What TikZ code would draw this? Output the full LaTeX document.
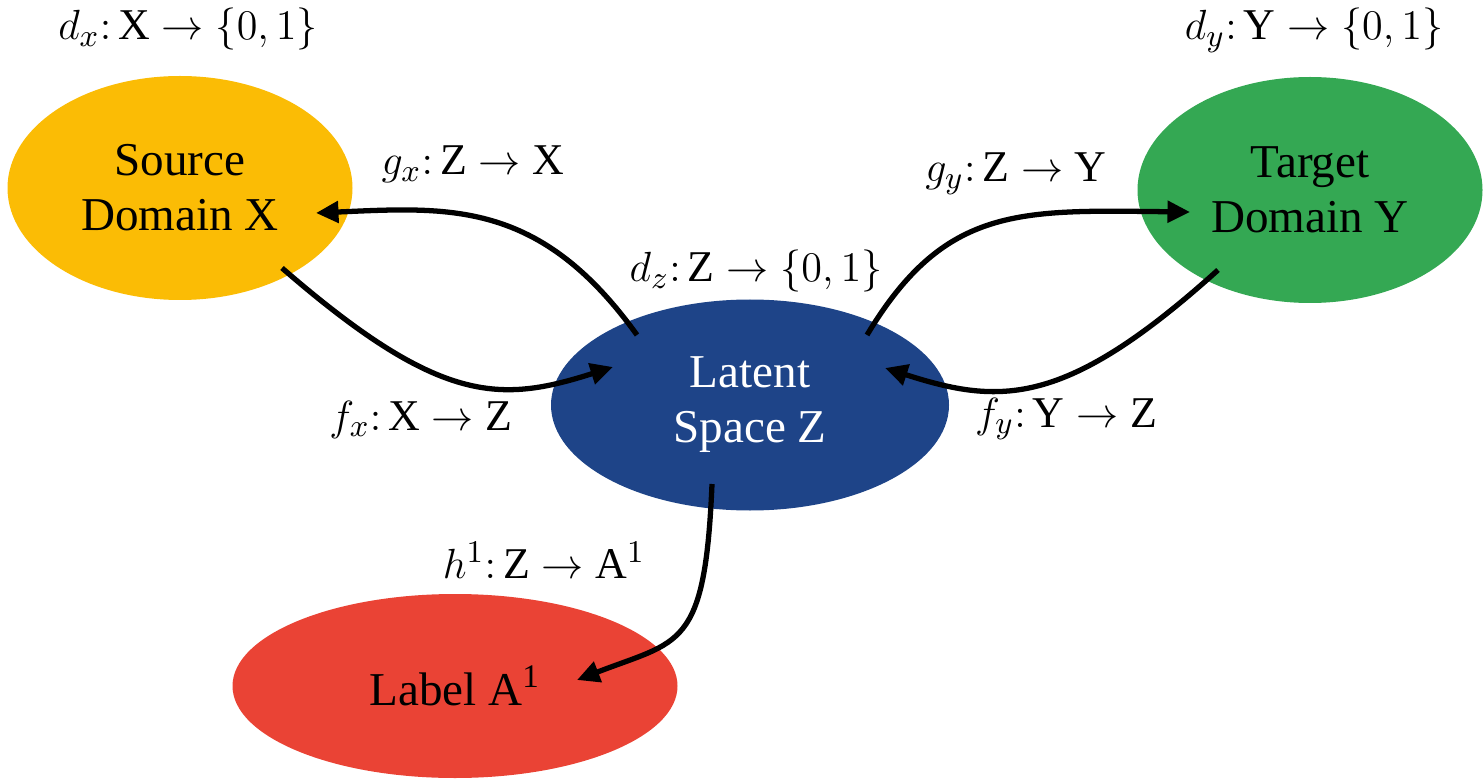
\documentclass[tikz,border=0pt]{standalone}
\usepackage{amsmath}
\usepackage{fontspec}
\setmainfont{Liberation Serif}
\usetikzlibrary{calc,shapes.geometric,arrows.meta}
\definecolor{srcyellow}{HTML}{FBBC05}
\definecolor{tgtgreen}{HTML}{34A853}
\definecolor{latblue}{HTML}{1E4488}
\definecolor{labred}{HTML}{EA4335}

\begin{document}
\begin{tikzpicture}[
    spacenode/.style = {ellipse, inner sep=0pt, align=center, font=\fontsize{13.4}{15.6}\selectfont},
    map/.style = {line width=1.5pt, -{Triangle[length=6.4pt,width=6pt]}},
    maplabel/.style = {anchor=base, inner sep=0pt, font=\fontsize{12.5}{14}\selectfont}
]
    \useasboundingbox (0,0) rectangle (14.84,7.79);

    % Domains
    \node[spacenode, fill=srcyellow, minimum width=3.45cm, minimum height=2.24cm] (src) at (1.80,5.91) {Source\\Domain X};
    \node[spacenode, fill=tgtgreen, minimum width=3.45cm, minimum height=2.26cm] (tgt) at (13.10,5.89) {Target\\Domain Y};
    \node[spacenode, fill=latblue, text=white, minimum width=3.98cm, minimum height=2.11cm] (lat) at (7.50,3.74) {Latent\\Space Z};
    \node[spacenode, fill=labred, minimum width=4.45cm, minimum height=1.84cm] (lab) at (4.55,0.93) {Label A\textsuperscript{1}};

    % Maps
    \draw[map] ($(src)+(1.02,-0.80)$) .. controls (4.40,3.74) and (5.00,3.76) .. ($(lat)+(-1.37,0.38)$);
    \draw[map] ($(lat)+(-1.13,0.70)$) .. controls (5.40,5.79) and (4.50,5.72) .. ($(src)+(1.36,-0.25)$);
    \draw[map] ($(lat)+(1.17,0.70)$) .. controls (9.45,5.74) and (10.20,5.69) .. ($(tgt)+(-1.20,-0.22)$);
    \draw[map] ($(tgt)+(-0.92,-0.80)$) .. controls (10.65,3.71) and (10.00,3.74) .. ($(lat)+(1.35,0.37)$);
    \draw[map] ($(lat)+(-0.38,-0.79)$) .. controls (7.05,1.29) and (6.80,1.39) .. ($(lab)+(1.22,0.06)$);

    % Labels
    \node[maplabel] (dx) at (1.88,7.39) {$d_x{:}\,\mathrm{X} \to \{0, 1\}$};
    \node[maplabel] (dy) at (13.14,7.39) {$d_y{:}\,\mathrm{Y} \to \{0, 1\}$};
    \node[maplabel] (dz) at (7.56,4.97) {$d_z{:}\,\mathrm{Z} \to \{0, 1\}$};
    \node[maplabel] (gx) at (4.73,6.04) {$g_x{:}\,\mathrm{Z} \to \mathrm{X}$};
    \node[maplabel] (gy) at (10.16,5.97) {$g_y{:}\,\mathrm{Z} \to \mathrm{Y}$};
    \node[maplabel] (fx) at (4.21,3.49) {$f_x{:}\,\mathrm{X} \to \mathrm{Z}$};
    \node[maplabel] (fy) at (10.66,3.52) {$f_y{:}\,\mathrm{Y} \to \mathrm{Z}$};
    \node[maplabel] (h) at (5.44,2.01) {$h^1{:}\,\mathrm{Z} \to \mathrm{A}^1$};
\end{tikzpicture}
\end{document}
